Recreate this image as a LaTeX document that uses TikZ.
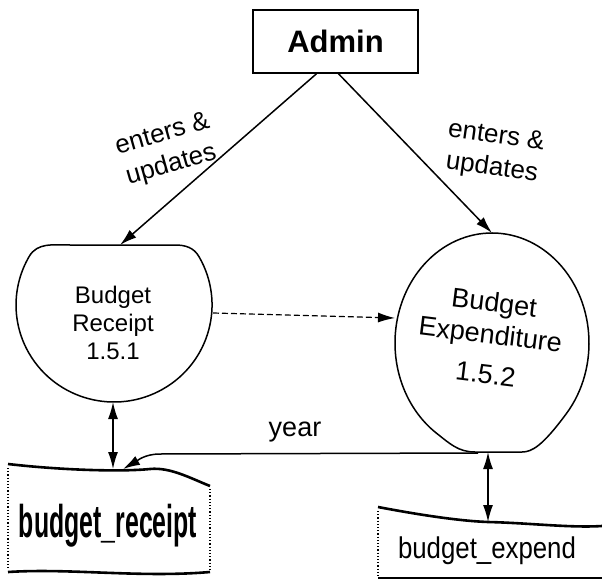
\documentclass[tikz,border=0pt]{standalone}
\usepackage{fontspec}
\setmainfont{Liberation Sans}
\usetikzlibrary{arrows.meta}
\tikzset{flow/.style = {-{Latex[length=17pt,width=10pt]}}}
\tikzset{both/.style = {{Latex[length=17pt,width=10pt]}-{Latex[length=17pt,width=10pt]}}}
\tikzset{proc/.style = {align=center, inner sep=0}}
\tikzset{lbl/.style = {align=center, inner sep=0, font=\fontsize{26}{32}\selectfont}}
\tikzset{storeline/.style = {line width=2.6pt}}
\tikzset{storeside/.style = {line width=1.2pt, dotted}}

\begin{document}
\begin{tikzpicture}[x=1pt,y=-1pt,line width=1.5pt]
        \fill [white] (0,0) rectangle (602,583);
        \useasboundingbox (0,0) rectangle (602,583);
        \node [draw, minimum width=165, minimum height=63, font=\fontsize{31}{31}\selectfont\bfseries] (admin) at (335.5,41.5) {Admin};
        \node [proc, font=\fontsize{24}{28}\selectfont] (rcpt) at (113,323) {Budget\\Receipt\\1.5.1};
        \node [proc, rotate=-7, font=\fontsize{27}{32}\selectfont] (expd) at (490,338) {Budget\\Expenditure\\[8pt]1.5.2};
        \draw (70,245) -- (175,245) to[out=0,in=120] (198.9,256.5) arc[start angle=-30,end angle=210,x radius=98,y radius=97] to[out=60,in=180] (70,245) -- cycle;
        \draw (522,452) .. controls (532,452) and (542.5,445.9) .. (566.3,413.7) arc[start angle=40,end angle=-235,x radius=97,y radius=110] to[out=-38,in=180] (475,452) -- cycle;
        \coordinate (rcpt-n) at (120,245);
        \coordinate (rcpt-e) at (213,313);
        \coordinate (rcpt-s) at (113,402);
        \coordinate (expd-n) at (492,233);
        \coordinate (expd-w) at (395,318);
        \coordinate (expd-s) at (488,452);
        \coordinate (expd-sw) at (478,453);
        \coordinate (brcpt-n) at (113,469);
        \coordinate (brcpt-ne) at (123,469);
        \coordinate (bexp-n) at (488,522);
        \draw [flow] ([xshift=-19pt]admin.south) -- (rcpt-n);
        \draw [flow] ([xshift=3pt]admin.south) -- (expd-n);
        \node [lbl, rotate=16] (entL) at (167,150) {enters \&\\updates};
        \node [lbl, rotate=-8] (entR) at (494,153) {enters \&\\updates};
        \draw [flow, line width=1.2pt, dash pattern=on 6pt off 3pt] (rcpt-e) -- (expd-w);
        \draw [flow] (expd-sw) -- (160,454) to[out=180,in=30] (brcpt-ne);
        \node [font=\fontsize{27}{27}\selectfont] (yr) at (295,432) {year};
        \draw [both] (rcpt-s) -- (brcpt-n);
        \draw [both] (expd-s) -- (bexp-n);
        \draw [storeline] (8,464) .. controls (60,470) and (120,472) .. (150,469) .. controls (170,467) and (190,478) .. (210,486);
        \draw [storeline] (8,572) .. controls (70,568) and (140,578) .. (210,572);
        \draw [storeside] (8,468) -- (8,570);
        \draw [storeside] (210,489) -- (210,570);
        \node [font=\fontsize{46}{46}\selectfont\bfseries, xscale=0.54] (brcpt) at (108,526) {budget\_receipt};
        \draw [storeline] (378,507) .. controls (420,515) and (460,521) .. (488,522) .. controls (530,523) and (570,528) .. (602,526);
        \draw [storeline] (378,578) -- (602,578);
        \draw [storeside] (378,511) -- (378,576);
        \node [font=\fontsize{30}{30}\selectfont, xscale=0.86] (bexp) at (487,551) {budget\_expend};
    \end{tikzpicture}
\end{document}
